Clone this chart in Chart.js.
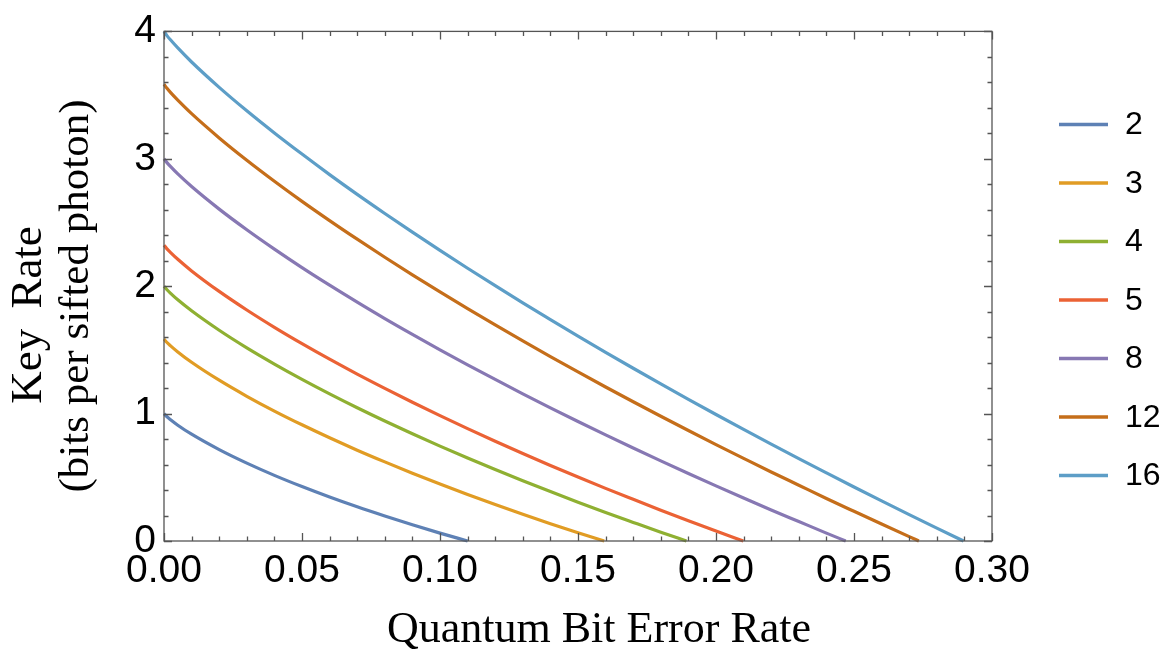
<!DOCTYPE html>
<html>
<head>
<meta charset="utf-8">
<script src="https://cdn.jsdelivr.net/npm/chart.js@4.4.0/dist/chart.umd.min.js"></script>
<style>
html,body{margin:0;padding:0;background:#fff;}
#wrap{width:1164px;height:652px;position:relative;}
</style>
</head>
<body>
<div id="wrap"><canvas id="c" width="1164" height="652"></canvas></div>
<script>
// Quantum bit error rate sample positions (x)
const qber = [0, 0.001, 0.0025, 0.005, 0.01, 0.02, 0.03, 0.04, 0.05, 0.06, 0.07, 0.08, 0.09, 0.10,
  0.11, 0.12, 0.13, 0.14, 0.15, 0.16, 0.17, 0.18, 0.19, 0.20, 0.21, 0.22, 0.23, 0.24, 0.25,
  0.26, 0.27, 0.28, 0.29];

// Key rate (bits per sifted photon)
const rate2  = [1, 0.977, 0.950, 0.909, 0.838, 0.717, 0.611, 0.515, 0.427, 0.345, 0.268, 0.196, 0.127, 0.062];
const rate3  = [1.585, 1.560, 1.530, 1.484, 1.403, 1.262, 1.136, 1.020, 0.912, 0.810, 0.713, 0.621, 0.532, 0.447,
  0.365, 0.286, 0.210, 0.136, 0.065];
const rate4  = [2, 1.974, 1.942, 1.893, 1.807, 1.654, 1.516, 1.389, 1.269, 1.155, 1.046, 0.942, 0.842, 0.745,
  0.651, 0.561, 0.473, 0.388, 0.305, 0.224, 0.146, 0.069];
const rate5  = [2.322, 2.295, 2.262, 2.211, 2.120, 1.959, 1.813, 1.677, 1.549, 1.427, 1.310, 1.198, 1.089, 0.984,
  0.882, 0.783, 0.687, 0.593, 0.502, 0.413, 0.327, 0.242, 0.159, 0.078];
const rate8  = [3, 2.972, 2.936, 2.881, 2.782, 2.605, 2.443, 2.291, 2.146, 2.008, 1.875, 1.746, 1.622, 1.501,
  1.383, 1.268, 1.155, 1.045, 0.938, 0.833, 0.730, 0.629, 0.530, 0.433, 0.338, 0.244, 0.153, 0.062];
const rate12 = [3.585, 3.555, 3.517, 3.460, 3.354, 3.164, 2.989, 2.824, 2.666, 2.515, 2.369, 2.227, 2.089, 1.955,
  1.824, 1.696, 1.571, 1.448, 1.327, 1.209, 1.093, 0.979, 0.867, 0.757, 0.649, 0.542, 0.438, 0.334, 0.233,
  0.133, 0.034];
const rate16 = [4, 3.969, 3.930, 3.870, 3.760, 3.561, 3.377, 3.203, 3.037, 2.876, 2.721, 2.571, 2.424, 2.281,
  2.141, 2.004, 1.869, 1.738, 1.608, 1.481, 1.356, 1.233, 1.112, 0.993, 0.876, 0.761, 0.647, 0.535, 0.424,
  0.315, 0.207, 0.101];

// QBER where each curve reaches zero key rate
const cutoffs = [0.1100, 0.1595, 0.1893, 0.2099, 0.2470, 0.2735, 0.2897];

const dimensions = ['2', '3', '4', '5', '8', '12', '16'];
const seriesColors = ['#5E81B5', '#E19C24', '#8FB032', '#EB6235', '#8778B3', '#C56E1A', '#5D9EC7'];

const xTickValues = [0, 0.05, 0.10, 0.15, 0.20, 0.25, 0.30];
const xTickLabels = ['0.00', '0.05', '0.10', '0.15', '0.20', '0.25', '0.30'];
const yTickValues = [0, 1, 2, 3, 4];
const yTickLabels = ['0', '1', '2', '3', '4'];

const xAxisTitle = 'Quantum Bit Error Rate';
const yAxisTitle = ['Key Rate', '(bits per sifted photon)'];

const allRates = [rate2, rate3, rate4, rate5, rate8, rate12, rate16];

const datasets = allRates.map((vals, k) => ({
  label: dimensions[k],
  data: vals.map((v, i) => ({x: qber[i], y: v})).concat([{x: cutoffs[k], y: 0}]),
  borderColor: seriesColors[k],
  backgroundColor: seriesColors[k],
  borderWidth: 3.2,
  pointRadius: 0,
  fill: false,
  cubicInterpolationMode: 'monotone',
  clip: 3
}));

// minor tick positions
const xMinor = []; for (let i = 0; i <= 30; i++) xMinor.push({v: i / 100, major: i % 5 === 0});
const yMinor = []; for (let i = 0; i <= 20; i++) yMinor.push({v: i / 5, major: i % 5 === 0});

const SERIF = '"Liberation Serif", "Times New Roman", serif';
const SANS = '"Liberation Sans", Arial, sans-serif';

const framePlugin = {
  id: 'frameTicks',
  afterDatasetsDraw(chart) {
    const {ctx, chartArea: {left, right, top, bottom}, scales: {x, y}} = chart;
    ctx.save();
    ctx.strokeStyle = '#555555';
    ctx.lineWidth = 1.3;
    ctx.beginPath();
    xMinor.forEach(t => {
      const px = Math.round(x.getPixelForValue(t.v)) + 0.5;
      const len = t.major ? 8 : 4.5;
      ctx.moveTo(px, bottom); ctx.lineTo(px, bottom - len);
      ctx.moveTo(px, top); ctx.lineTo(px, top + len);
    });
    yMinor.forEach(t => {
      const py = Math.round(y.getPixelForValue(t.v)) + 0.5;
      const len = t.major ? 8 : 4.5;
      ctx.moveTo(left, py); ctx.lineTo(left + len, py);
      ctx.moveTo(right, py); ctx.lineTo(right - len, py);
    });
    ctx.stroke();
    ctx.strokeRect(left, top, right - left, bottom - top);
    ctx.restore();
  },
  afterDraw(chart) {
    const {ctx, chartArea: {right}} = chart;
    // legend
    ctx.save();
    ctx.font = '32px ' + SANS;
    ctx.textBaseline = 'middle';
    ctx.textAlign = 'left';
    chart.data.datasets.forEach((ds, i) => {
      const yy = 124.5 + i * 58.5;
      ctx.strokeStyle = ds.borderColor;
      ctx.lineWidth = 3.5;
      ctx.beginPath();
      ctx.moveTo(right + 67, yy); ctx.lineTo(right + 116, yy);
      ctx.stroke();
      ctx.fillStyle = '#000';
      ctx.fillText(ds.label, right + 133, yy + 1);
    });
    ctx.restore();

    // axis titles
    ctx.save();
    ctx.fillStyle = '#000';
    ctx.textAlign = 'center';
    ctx.textBaseline = 'middle';
    ctx.font = '44px ' + SERIF;
    ctx.fillText(xAxisTitle, 599, 630);
    ctx.restore();

    ctx.save();
    ctx.fillStyle = '#000';
    ctx.textAlign = 'center';
    ctx.textBaseline = 'middle';
    ctx.font = '45px ' + SERIF;
    ctx.translate(29, 315);
    ctx.rotate(-Math.PI / 2);
    try { ctx.wordSpacing = '9px'; } catch (e) {}
    ctx.fillText(yAxisTitle[0], 0, 0);
    ctx.restore();

    ctx.save();
    ctx.fillStyle = '#000';
    ctx.textAlign = 'center';
    ctx.textBaseline = 'middle';
    ctx.font = '43px ' + SERIF;
    ctx.translate(77, 296);
    ctx.rotate(-Math.PI / 2);
    ctx.fillText(yAxisTitle[1], 0, 0);
    ctx.restore();
  }
};

new Chart(document.getElementById('c'), {
  type: 'line',
  data: {datasets},
  options: {
    responsive: false,
    devicePixelRatio: 1,
    animation: false,
    layout: {padding: {top: 30, right: 172, bottom: 0, left: 0}},
    plugins: {legend: {display: false}, tooltip: {enabled: false}},
    scales: {
      x: {
        type: 'linear', min: 0, max: 0.3,
        afterBuildTicks: s => { s.ticks = xTickValues.map(v => ({value: v})); },
        afterFit: s => { s.height = 111; },
        ticks: {
          callback: (v, i) => xTickLabels[i],
          font: {family: SANS, size: 39, lineHeight: 1.2},
          color: '#000', padding: 7, maxRotation: 0, autoSkip: false
        },
        grid: {display: false, drawTicks: false},
        border: {display: false},
        title: {display: false}
      },
      y: {
        type: 'linear', min: 0, max: 4,
        afterBuildTicks: s => { s.ticks = yTickValues.map(v => ({value: v})); },
        afterFit: s => { s.width = 164; },
        ticks: {
          callback: (v, i) => yTickLabels[i],
          font: {family: SANS, size: 39, lineHeight: 1.2},
          color: '#000', padding: 8, autoSkip: false
        },
        grid: {display: false, drawTicks: false},
        border: {display: false},
        title: {display: false}
      }
    }
  },
  plugins: [framePlugin]
});
</script>
</body>
</html>
